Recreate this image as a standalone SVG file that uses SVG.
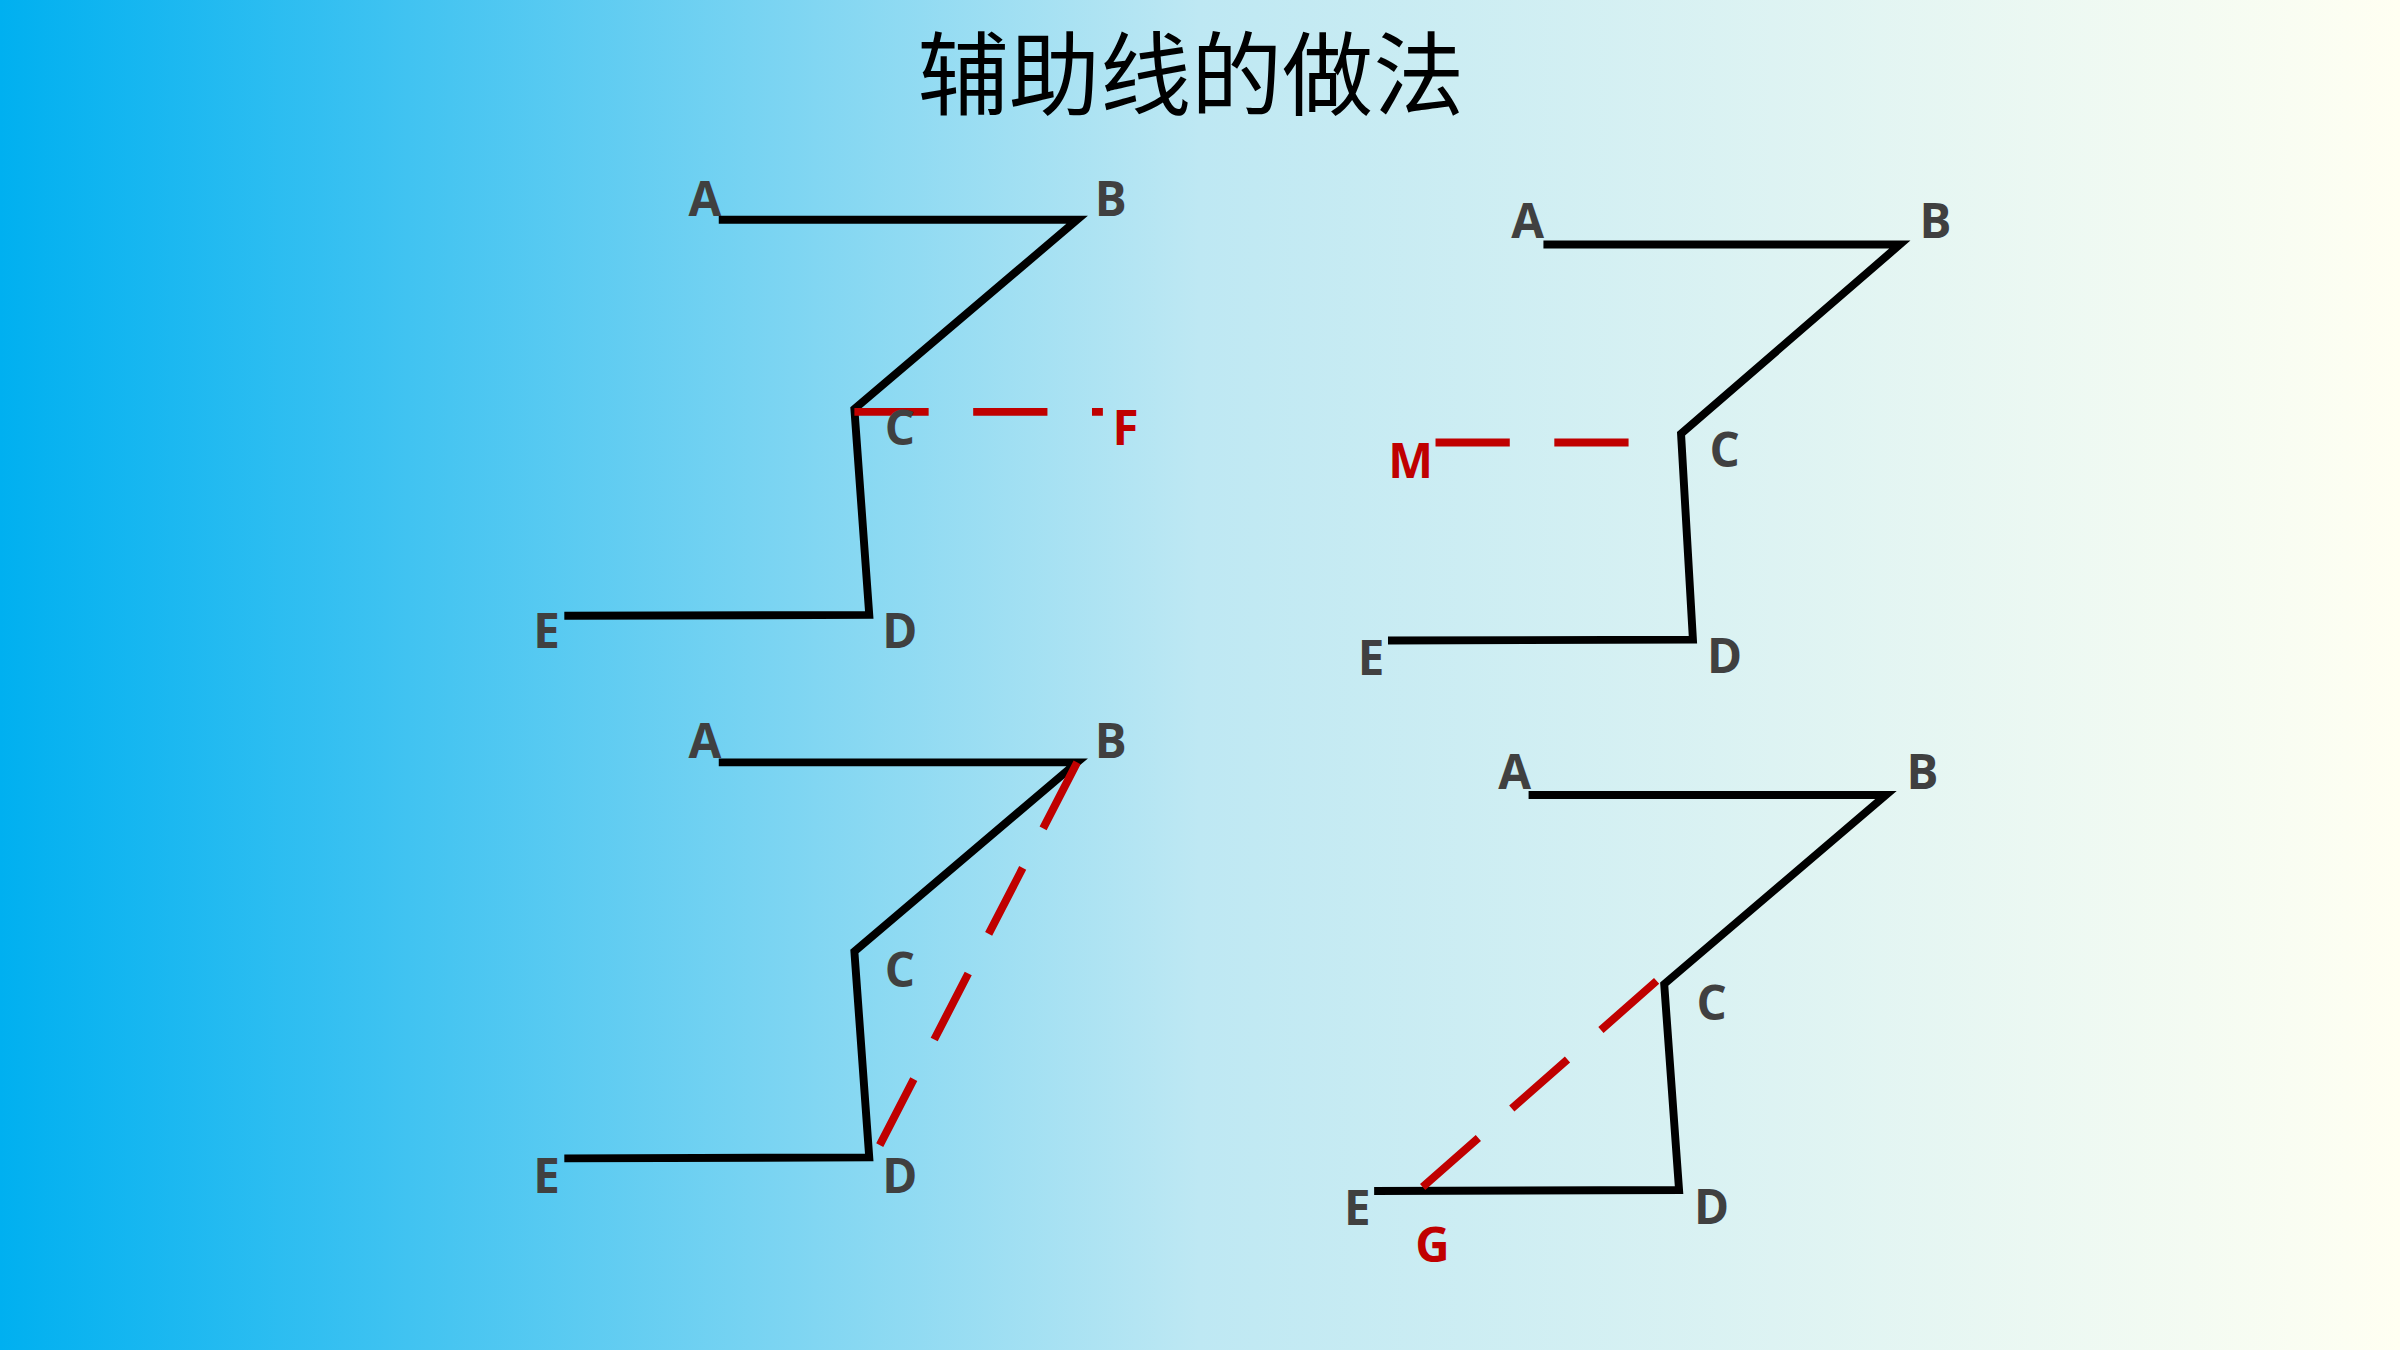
<svg xmlns="http://www.w3.org/2000/svg" width="2400" height="1350" viewBox="0 0 2400 1350">
<defs>
<linearGradient id="bg" x1="0" y1="0" x2="1" y2="0">
<stop offset="0" stop-color="#00B0F0"/>
<stop offset="0.5" stop-color="#BEE8F3"/>
<stop offset="1" stop-color="#FFFFF2"/>
</linearGradient>
<style>
.k{fill:none;stroke:#000;stroke-width:8}
.r{fill:none;stroke:#C00000;stroke-width:8;stroke-dasharray:75 45}
.l{font-family:"Open Sans","DejaVu Sans",sans-serif;font-weight:bold;font-size:48px;fill:#404040;text-anchor:middle}
.lr{fill:#C00000}
</style>
</defs>
<rect width="2400" height="1350" fill="url(#bg)"/>
<g transform="translate(2,5) scale(0.99)">
<text x="1201" y="104" font-family="Noto Sans CJK SC, sans-serif" font-size="92" text-anchor="middle" fill="#000">辅助线的做法</text>
<g id="connectors">
<polyline class="k" points="724,217 1086,217 861,408 876,616 568,617"/>
<polyline class="k" points="1557,242 1917,242 1696,433 1708,641 1400,642"/>
<polyline class="k" points="724,765 1086,765 861,956 876,1164 568,1165"/>
<polyline class="k" points="1542,798 1903,798 1679,989 1694,1197 1386,1198"/>
<line class="r" x1="861" y1="411" x2="1112" y2="411"/>
<line class="r" x1="1448" y1="442" x2="1660" y2="442"/>
<line class="r" x1="1086" y1="765" x2="873" y2="1178"/>
<line class="r" x1="1435" y1="1194" x2="1679" y2="979"/>
</g>
<g id="fig1"><text class="l" x="710" y="213">A</text><text class="l" x="1120" y="213">B</text><text class="l" x="907" y="444">C</text><text class="l lr" x="1135" y="444">F</text><text class="l" x="907" y="650">D</text><text class="l" x="550" y="650">E</text></g>
<g id="fig2"><text class="l" x="1541" y="235">A</text><text class="l" x="1953" y="235">B</text><text class="l" x="1740" y="467">C</text><text class="l lr" x="1423" y="478">M</text><text class="l" x="1740" y="675">D</text><text class="l" x="1383" y="677">E</text></g>
<g id="fig3"><text class="l" x="710" y="761">A</text><text class="l" x="1120" y="761">B</text><text class="l" x="907" y="992">C</text><text class="l" x="907" y="1200">D</text><text class="l" x="550" y="1200">E</text></g>
<g id="fig4"><text class="l" x="1528" y="792">A</text><text class="l" x="1940" y="792">B</text><text class="l" x="1727" y="1025">C</text><text class="l" x="1727" y="1231">D</text><text class="l" x="1369" y="1232">E</text><text class="l lr" x="1445" y="1270">G</text></g>
</g>
</svg>
